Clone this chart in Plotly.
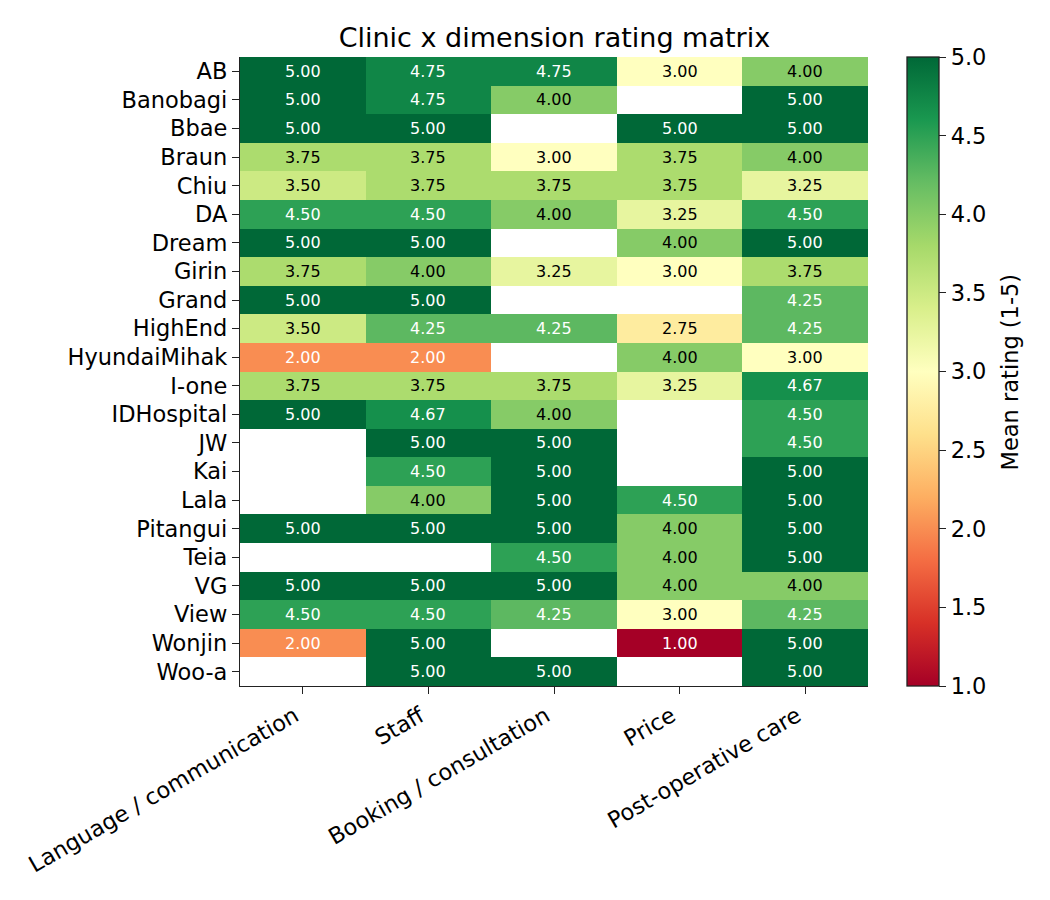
import plotly.graph_objects as go

# rows of the matrix (top to bottom) and rating dimensions (left to right)
clinics = ["AB", "Banobagi", "Bbae", "Braun", "Chiu", "DA", "Dream", "Girin", "Grand",
           "HighEnd", "HyundaiMihak", "I-one", "IDHospital", "JW", "Kai", "Lala",
           "Pitangui", "Teia", "VG", "View", "Wonjin", "Woo-a"]
dimensions = ["Language / communication", "Staff", "Booking / consultation", "Price",
              "Post-operative care"]

# mean rating per clinic, one list per dimension (None = no reviews)
language = [5.00, 5.00, 5.00, 3.75, 3.50, 4.50, 5.00, 3.75, 5.00, 3.50, 2.00, 3.75, 5.00,
            None, None, None, 5.00, None, 5.00, 4.50, 2.00, None]
staff = [4.75, 4.75, 5.00, 3.75, 3.75, 4.50, 5.00, 4.00, 5.00, 4.25, 2.00, 3.75, 4.67,
         5.00, 4.50, 4.00, 5.00, None, 5.00, 4.50, 5.00, 5.00]
booking = [4.75, 4.00, None, 3.00, 3.75, 4.00, None, 3.25, None, 4.25, None, 3.75, 4.00,
           5.00, 5.00, 5.00, 5.00, 4.50, 5.00, 4.25, None, 5.00]
price = [3.00, None, 5.00, 3.75, 3.75, 3.25, 4.00, 3.00, None, 2.75, 4.00, 3.25, None,
         None, None, 4.50, 4.00, 4.00, 4.00, 3.00, 1.00, None]
postop = [4.00, 5.00, 5.00, 4.00, 3.25, 4.50, 5.00, 3.75, 4.25, 4.25, 3.00, 4.67, 4.50,
          4.50, 5.00, 5.00, 5.00, 5.00, 4.00, 4.25, 5.00, 5.00]

cbar_ticks = [1.0, 1.5, 2.0, 2.5, 3.0, 3.5, 4.0, 4.5, 5.0]

columns = [language, staff, booking, price, postop]
z = [[col[i] for col in columns] for i in range(len(clinics))]

FONT = "DejaVu Sans"

fig = go.Figure(go.Heatmap(
    z=z, x=dimensions, y=clinics,
    colorscale="RdYlGn", zmin=1, zmax=5,
    hoverongaps=False,
    colorbar=dict(
        x=1.062, xanchor="left", xpad=0, ypad=0,
        thickness=32, len=1, lenmode="fraction",
        y=0.5, yanchor="middle",
        outlinecolor="#222", outlinewidth=1.3,
        tickvals=cbar_ticks,
        ticktext=[f"{t:.1f}" for t in cbar_ticks],
        ticks="outside", ticklen=7, tickwidth=1.3, tickcolor="#222",
        tickfont=dict(family=FONT, size=22.5, color="black"),
    ),
))

# value labels in each cell
for i, clinic in enumerate(clinics):
    for j, dim in enumerate(dimensions):
        v = z[i][j]
        if v is None:
            continue
        fig.add_annotation(
            x=dim, y=clinic, text=f"{v:.2f}", showarrow=False,
            font=dict(family=FONT, size=16,
                      color="white" if (v > 4.1 or v < 2.4) else "black"),
        )

# colorbar label, placed like matplotlib's
fig.add_annotation(
    text="Mean rating (1-5)", xref="paper", yref="paper", x=1.226, y=0.5,
    xanchor="center", yanchor="middle", textangle=-90, showarrow=False,
    font=dict(family=FONT, size=22.5, color="black"),
)

fig.update_layout(
    width=1050, height=900,
    paper_bgcolor="white", plot_bgcolor="white",
    margin=dict(l=240, r=182, t=57, b=214),
    font=dict(family=FONT, color="black"),
    title=dict(text="Clinic x dimension rating matrix", x=0.528, xanchor="center",
               y=0.958, yanchor="middle",
               font=dict(family=FONT, size=27, color="black")),
)
fig.update_xaxes(
    showline=True, linecolor="#222", linewidth=1.3, mirror=False,
    ticks="outside", ticklen=7, tickwidth=1.3, tickcolor="#222",
    tickangle=-30, ticklabelshift=-8,
    tickfont=dict(family=FONT, size=22.5, color="black"),
    showgrid=False, zeroline=False,
)
fig.update_yaxes(
    autorange="reversed",
    showline=True, linecolor="#222", linewidth=1.3, mirror=False,
    ticks="outside", ticklen=7, tickwidth=1.3, tickcolor="#222",
    tickfont=dict(family=FONT, size=22.5, color="black"),
    showgrid=False, zeroline=False,
)

# drop the default page margin so the figure sits at the window's corner
fig.write_html("out.html", config={"displayModeBar": False},
               post_script="document.body.style.margin='0px';")
